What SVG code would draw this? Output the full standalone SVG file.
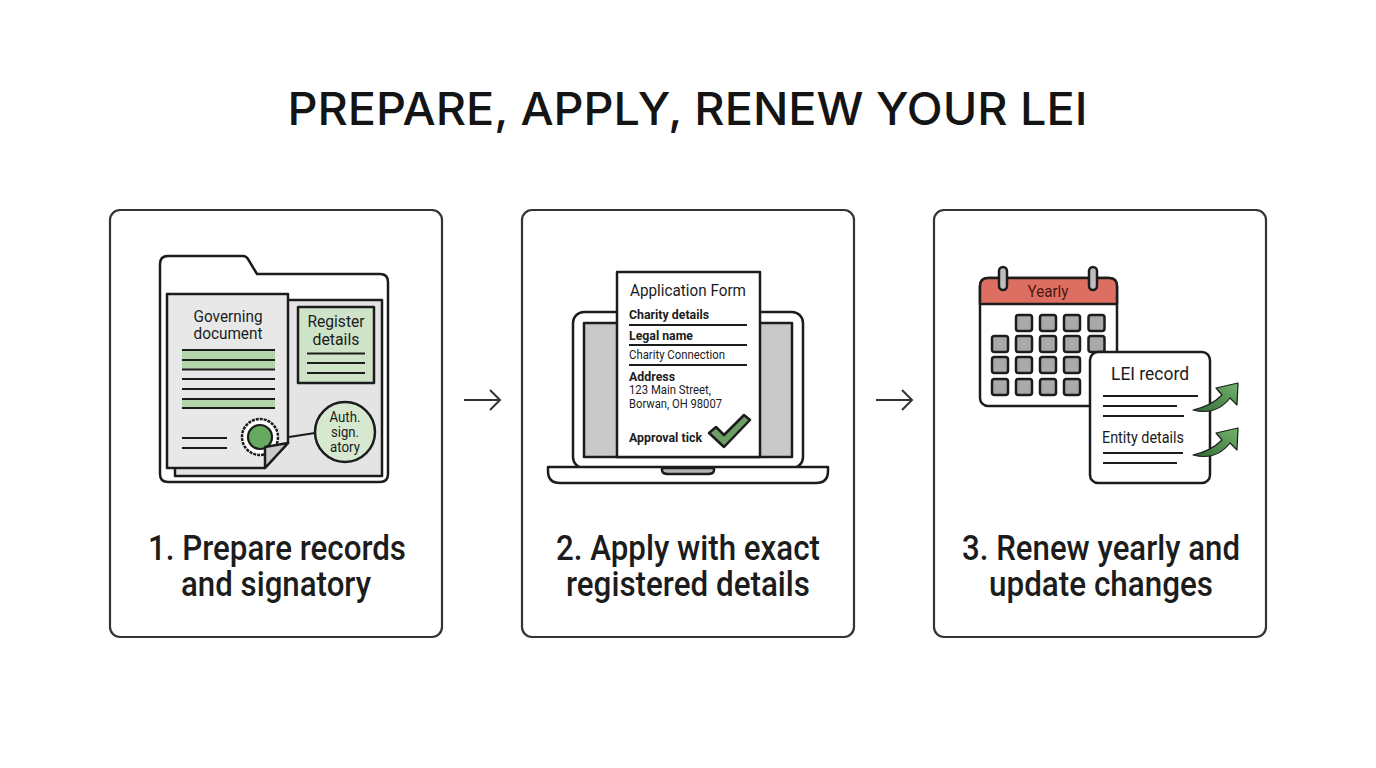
<svg xmlns="http://www.w3.org/2000/svg" width="1376" height="768" viewBox="0 0 1376 768">
<defs>
<linearGradient id="up" x1="0" y1="1" x2="1" y2="0"><stop offset="0" stop-color="#2f6b35"/><stop offset="1" stop-color="#74b46d"/></linearGradient>
</defs>
<style>
text{font-family:Roboto,"Liberation Sans",sans-serif;fill:#1c1c1c}
.title{font-family:Inter,"Liberation Sans",sans-serif;font-size:45px;font-weight:500;text-anchor:middle;fill:#141414}
.cap{font-size:35px;text-anchor:middle;font-weight:500}
.card{fill:#fff;stroke:#333;stroke-width:2.200}
.kf{stroke:#1c1c1c;stroke-width:2.500;stroke-linejoin:round}
.ln{stroke:#1c1c1c;stroke-width:2.200;fill:none}
.conn{stroke:#333;stroke-width:2;fill:none}
.t17{font-size:17px;text-anchor:middle}
.f{font-size:13px}
.b{font-weight:700}
.sq{fill:#a9a9a9;stroke:#1c1c1c;stroke-width:2.500}
.g{fill:#b4d4ac}
.arr{fill:url(#up);stroke:#1c1c1c;stroke-width:1.200;stroke-linejoin:round}
</style>
<rect width="1376" height="768" fill="#fff"/>
<text class="title" x="687.500" y="125" textLength="800" lengthAdjust="spacingAndGlyphs">PREPARE, APPLY, RENEW YOUR LEI</text>

<g id="connectors">
<path class="conn" d="M464 400H500M490 390L500 400L490 410"/>
<path class="conn" d="M876 400H912M902 390L912 400L902 410"/>
</g>

<g id="node-1">
<rect class="card" x="110" y="210" width="332" height="427" rx="10"/>
<path class="kf" fill="#fff" d="M168 256H243Q246 256 248 259L257 274H380Q388 274 388 282V474Q388 482 380 482H168Q160 482 160 474V264Q160 256 168 256Z"/>
<rect class="kf" fill="#e4e4e4" x="175" y="300" width="207" height="176"/>
<path class="kf" fill="#e8e8e8" d="M167 294H288V443L265 468H167Z"/>
<path class="g" d="M182 350H275V369H182ZM182 399H275V408H182Z"/>
<path class="ln" d="M182 350H275M182 360H275M182 369.500H275M182 379H275M182 389H275M182 399H275M182 408H275M182 438H227M182 448H227"/>
<text class="t17" x="228" y="322" textLength="69" lengthAdjust="spacingAndGlyphs">Governing</text>
<text class="t17" x="228" y="339" textLength="69" lengthAdjust="spacingAndGlyphs">document</text>
<circle cx="260" cy="437" r="18" fill="#fff" stroke="#1c1c1c" stroke-width="2.500" stroke-dasharray="3 1"/>
<circle cx="260" cy="437" r="12" fill="#65aa5f" stroke="#1c1c1c" stroke-width="2.200"/>
<path class="kf" fill="#c9c9c9" d="M265 468V447L288 443Z"/>
<rect class="kf" fill="#cfe3c8" x="298" y="307" width="76" height="76"/>
<text class="t17" x="336" y="327" textLength="57" lengthAdjust="spacingAndGlyphs">Register</text>
<text class="t17" x="336" y="345" textLength="47" lengthAdjust="spacingAndGlyphs">details</text>
<path class="ln" d="M307 353.500H365M307 363H365M307 373H365"/>
<path class="ln" d="M289 437L315 433"/>
<circle class="kf" cx="345" cy="432" r="30" fill="#d6e8cf"/>
<text x="345" y="422" font-size="15" text-anchor="middle" textLength="31" lengthAdjust="spacingAndGlyphs">Auth.</text>
<text x="345" y="437" font-size="15" text-anchor="middle" textLength="28" lengthAdjust="spacingAndGlyphs">sign.</text>
<text x="345" y="452" font-size="15" text-anchor="middle" textLength="30" lengthAdjust="spacingAndGlyphs">atory</text>
<text class="cap" x="277" y="560" textLength="258" lengthAdjust="spacingAndGlyphs">1. Prepare records</text>
<text class="cap" x="276" y="596" textLength="190" lengthAdjust="spacingAndGlyphs">and signatory</text>
</g>

<g id="node-2">
<rect class="card" x="522" y="210" width="332" height="427" rx="10"/>
<rect class="kf" fill="#fff" x="573" y="312" width="230" height="156" rx="11"/>
<rect class="kf" fill="#c9c9c9" x="584" y="323" width="208" height="134"/>
<path class="kf" fill="#fff" d="M548 467H828V471Q828 483 816 483H560Q548 483 548 471Z"/>
<path class="kf" fill="#b5b5b5" d="M662 468H714V470Q714 474 708 474H668Q662 474 662 470Z"/>
<rect class="kf" fill="#fff" x="617" y="272" width="143" height="185"/>
<text x="630" y="296" font-size="17" textLength="116" lengthAdjust="spacingAndGlyphs">Application Form</text>
<text class="f b" x="629" y="319" textLength="80" lengthAdjust="spacingAndGlyphs">Charity details</text>
<text class="f b" x="629" y="340" textLength="64" lengthAdjust="spacingAndGlyphs">Legal name</text>
<text class="f" x="629" y="359" textLength="96" lengthAdjust="spacingAndGlyphs">Charity Connection</text>
<text class="f b" x="629" y="381" textLength="46" lengthAdjust="spacingAndGlyphs">Address</text>
<text x="629" y="394" font-size="12" textLength="82" lengthAdjust="spacingAndGlyphs">123 Main Street,</text>
<text x="629" y="408" font-size="12" textLength="93" lengthAdjust="spacingAndGlyphs">Borwan, OH 98007</text>
<text class="f b" x="629" y="442" textLength="73" lengthAdjust="spacingAndGlyphs">Approval tick</text>
<path class="ln" d="M629 325H747M629 345H747M629 365H747"/>
<path class="kf" fill="#6b9f63" d="M709 433L716 427L724 435L744 415L750 420L724 447Z"/>
<text class="cap" x="688" y="560" textLength="264" lengthAdjust="spacingAndGlyphs">2. Apply with exact</text>
<text class="cap" x="688" y="596" textLength="244" lengthAdjust="spacingAndGlyphs">registered details</text>
</g>

<g id="node-3">
<rect class="card" x="934" y="210" width="332" height="427" rx="10"/>
<rect class="kf" fill="#fff" x="980" y="278" width="137" height="128" rx="8"/>
<path class="kf" fill="#dd6f62" d="M980 304V286Q980 278 988 278H1109Q1117 278 1117 286V304Z"/>
<rect class="kf" fill="#bdbdbd" x="999" y="267" width="8" height="23" rx="4"/>
<rect class="kf" fill="#bdbdbd" x="1089" y="267" width="8" height="23" rx="4"/>
<text x="1048" y="297" font-size="17" text-anchor="middle" style="fill:#4d1712" textLength="41" lengthAdjust="spacingAndGlyphs">Yearly</text>
<g id="calendar-days">
<rect class="sq" x="1016" y="315" width="16" height="16" rx="2.500"/>
<rect class="sq" x="1040" y="315" width="16" height="16" rx="2.500"/>
<rect class="sq" x="1064" y="315" width="16" height="16" rx="2.500"/>
<rect class="sq" x="1088.500" y="315" width="16" height="16" rx="2.500"/>
<rect class="sq" x="992" y="336" width="16" height="16" rx="2.500"/>
<rect class="sq" x="1016" y="336" width="16" height="16" rx="2.500"/>
<rect class="sq" x="1040" y="336" width="16" height="16" rx="2.500"/>
<rect class="sq" x="1064" y="336" width="16" height="16" rx="2.500"/>
<rect class="sq" x="1088.500" y="336" width="16" height="16" rx="2.500"/>
<rect class="sq" x="992" y="357" width="16" height="16" rx="2.500"/>
<rect class="sq" x="1016" y="357" width="16" height="16" rx="2.500"/>
<rect class="sq" x="1040" y="357" width="16" height="16" rx="2.500"/>
<rect class="sq" x="1064" y="357" width="16" height="16" rx="2.500"/>
<rect class="sq" x="992" y="379" width="16" height="16" rx="2.500"/>
<rect class="sq" x="1016" y="379" width="16" height="16" rx="2.500"/>
<rect class="sq" x="1040" y="379" width="16" height="16" rx="2.500"/>
<rect class="sq" x="1064" y="379" width="16" height="16" rx="2.500"/>
</g>
<rect class="kf" fill="#fff" x="1090" y="352" width="120" height="131" rx="8"/>
<text x="1150" y="380" font-size="19" text-anchor="middle" textLength="78" lengthAdjust="spacingAndGlyphs">LEI record</text>
<path class="ln" d="M1103 396H1198M1103 406H1177M1103 416H1184M1103 453H1183M1103 463H1177"/>
<text x="1102" y="443" font-size="16" textLength="82" lengthAdjust="spacingAndGlyphs">Entity details</text>
<path class="arr" d="M1193 410Q1211 406 1222 395L1216 388L1238 383L1237 405L1230 398Q1216 416 1193 410Z"/>
<path class="arr" d="M1193 455Q1211 451 1222 440L1216 433L1238 428L1237 450L1230 443Q1216 461 1193 455Z"/>
<text class="cap" x="1101" y="560" textLength="278" lengthAdjust="spacingAndGlyphs">3. Renew yearly and</text>
<text class="cap" x="1101" y="596" textLength="224" lengthAdjust="spacingAndGlyphs">update changes</text>
</g>
</svg>
